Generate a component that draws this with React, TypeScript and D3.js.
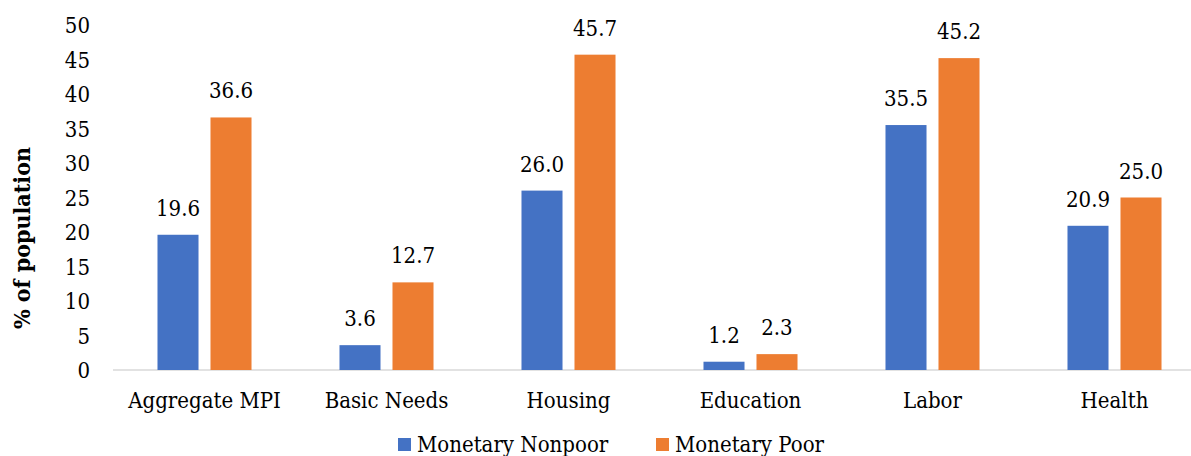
import React, { useRef, useEffect } from "react";
import * as d3 from "d3";

const categories = ["Aggregate MPI", "Basic Needs", "Housing", "Education", "Labor", "Health"];
const seriesNames = ["Monetary Nonpoor", "Monetary Poor"];
const nonpoor = [19.6, 3.6, 26.0, 1.2, 35.5, 20.9];
const poor = [36.6, 12.7, 45.7, 2.3, 45.2, 25.0];
const yTicks = [0, 5, 10, 15, 20, 25, 30, 35, 40, 45, 50];
const colors = ["#4472C4", "#ED7D31"];

const WIDTH = 1191;
const HEIGHT = 456;
const FONT = "'DejaVu Serif Condensed', 'DejaVu Serif', serif";
const FS = 22;

function App() {
  const svgRef = useRef<SVGSVGElement>(null);

  useEffect(() => {
    const svg = d3.select(svgRef.current);
    svg.selectAll("*").remove();

    const x0 = d3.scaleBand().domain(categories).range([113.5, 1205.5]);
    const x1 = d3
      .scaleBand()
      .domain(seriesNames)
      .range([0, x0.bandwidth()])
      .paddingInner(0.226)
      .paddingOuter(0.83);
    const y = d3.scaleLinear().domain([0, 50]).range([370, 25]);

    const rows = categories.map((c, i) => ({ cat: c, values: [nonpoor[i], poor[i]] }));

    // y axis: labels only
    const yAxis = d3.axisLeft(y).tickValues(yTicks).tickSize(0).tickPadding(0);
    const yg = svg
      .append("g")
      .attr("transform", "translate(90,0)")
      .call(yAxis);
    yg.select(".domain").remove();
    yg.attr("font-family", FONT).attr("font-stretch", "condensed").attr("font-size", FS);
    yg.selectAll("text")
      .attr("fill", "#000")
      .attr("dy", "0.36em");

    // baseline
    svg
      .append("line")
      .attr("x1", 113)
      .attr("x2", WIDTH)
      .attr("y1", y(0))
      .attr("y2", y(0))
      .attr("stroke", "#d9d9d9")
      .attr("stroke-width", 1.5);

    const groups = svg
      .selectAll(".grp")
      .data(rows)
      .join("g")
      .attr("class", "grp")
      .attr("transform", (d) => `translate(${x0(d.cat)},0)`);

    groups
      .selectAll("rect")
      .data((d) => d.values.map((v, j) => ({ v, s: seriesNames[j], j })))
      .join("rect")
      .attr("x", (d) => x1(d.s)!)
      .attr("width", x1.bandwidth())
      .attr("y", (d) => y(d.v))
      .attr("height", (d) => y(0) - y(d.v))
      .attr("fill", (d) => colors[d.j]);

    groups
      .selectAll(".val")
      .data((d) => d.values.map((v, j) => ({ v, s: seriesNames[j] })))
      .join("text")
      .attr("class", "val")
      .attr("x", (d) => x1(d.s)! + x1.bandwidth() / 2)
      .attr("y", (d) => y(d.v) - 19)
      .attr("text-anchor", "middle")
      .attr("font-family", FONT)
      .attr("font-stretch", "condensed")
      .attr("font-size", FS)
      .text((d) => d.v.toFixed(1));

    // category labels
    svg
      .selectAll(".cat")
      .data(categories)
      .join("text")
      .attr("class", "cat")
      .attr("x", (d) => x0(d)! + x0.bandwidth() / 2)
      .attr("y", 408)
      .attr("text-anchor", "middle")
      .attr("font-family", FONT)
      .attr("font-stretch", "condensed")
      .attr("font-size", FS)
      .text((d) => d);

    // y title
    svg
      .append("text")
      .attr("transform", "translate(30,238) rotate(-90)")
      .attr("text-anchor", "middle")
      .attr("font-family", FONT)
      .attr("font-stretch", "condensed")
      .attr("font-size", 23)
      .attr("font-weight", "bold")
      .text("% of population");

    // legend
    const legendX = [398, 656];
    const lg = svg
      .selectAll(".leg")
      .data(seriesNames)
      .join("g")
      .attr("class", "leg")
      .attr("transform", (d, i) => `translate(${legendX[i]},0)`);
    lg.append("rect")
      .attr("x", 0)
      .attr("y", 438)
      .attr("width", 13)
      .attr("height", 13)
      .attr("fill", (d, i) => colors[i]);
    lg.append("text")
      .attr("x", 19)
      .attr("y", 452)
      .attr("font-family", FONT)
      .attr("font-stretch", "condensed")
      .attr("font-size", FS)
      .text((d) => d);
  }, []);

  return (
    <svg
      ref={svgRef}
      width={WIDTH}
      height={HEIGHT}
      style={{ position: "absolute", left: 0, top: 0, background: "#fff" }}
    />
  );
}

export default App;
